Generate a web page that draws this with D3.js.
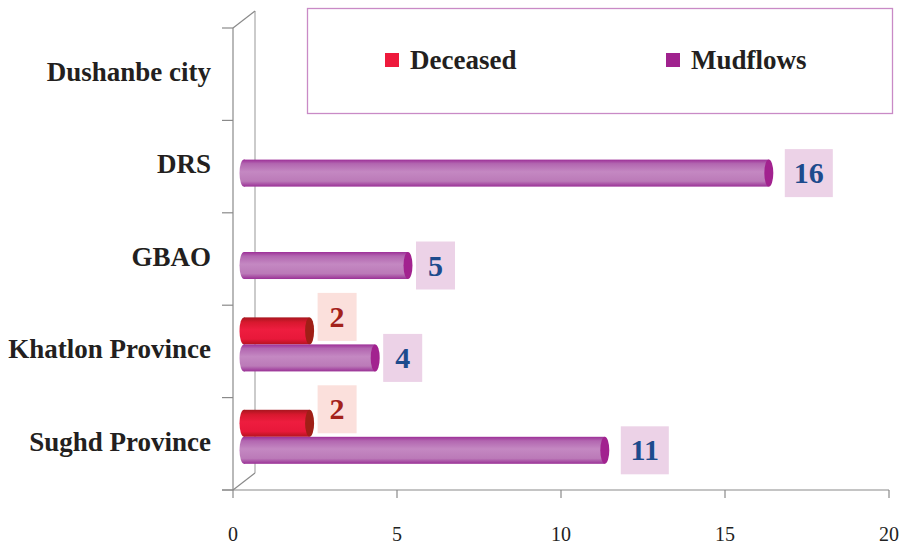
<!DOCTYPE html>
<html><head><meta charset="utf-8">
<script src="https://cdn.jsdelivr.net/npm/d3@7"></script>
<style>body{margin:0;background:#fff}svg{display:block}</style>
</head><body>
<svg id="c" width="902" height="546"></svg>
<script>
const categories = ["Dushanbe city","DRS","GBAO","Khatlon Province","Sughd Province"];
const seriesNames = ["Deceased","Mudflows"];
const deceased = [0,0,0,2,2];
const mudflows = [0,16,5,4,11];
const xTicks = [0,5,10,15,20];

const svg = d3.select("#c");
const x = d3.scaleLinear().domain([0,20]).range([233,889]);
const y = d3.scaleBand().domain(categories).range([28,490]);
const inner = d3.scaleBand().domain(seriesNames).range([0,y.bandwidth()]).paddingOuter(0.71);
const depth = {dx:22, dy:-17};
const barDx = 11, barDy = -7;
const font = "'Liberation Serif','Times New Roman',serif";
const axisCol = "#8a8a8a";

const defs = svg.append("defs");
function grad(id, stops){
  const g = defs.append("linearGradient").attr("id",id).attr("x1",0).attr("x2",0).attr("y1",0).attr("y2",1);
  stops.forEach(s=>g.append("stop").attr("offset",s[0]).attr("stop-color",s[1]));
}
grad("gDec",[[0,"#a8161f"],[0.18,"#d8182e"],[0.45,"#ee1d3f"],[0.8,"#e8183a"],[1,"#b5141f"]]);
grad("gMud",[[0,"#9d2f98"],[0.15,"#b266b0"],[0.45,"#c488c2"],[0.8,"#bb7ab8"],[1,"#9a3196"]]);
const style = {
  Deceased:{fill:"url(#gDec)",cap:"#a01f16",leg:"#ee1a3c",box:"#fbe0dc",txt:"#a3221b",shift:-14},
  Mudflows:{fill:"url(#gMud)",cap:"#a2228f",leg:"#a0228e",box:"#ecd2e7",txt:"#1d4b8d",shift:0}
};

// walls / axes
const g = svg.append("g").attr("stroke",axisCol).attr("stroke-width",1.2).attr("fill","none");
g.append("line").attr("x1",x(0)).attr("x2",x(0)).attr("y1",y.range()[0]).attr("y2",y.range()[1]);
g.append("line").attr("x1",x(0)+depth.dx).attr("x2",x(0)+depth.dx).attr("y1",y.range()[0]+depth.dy).attr("y2",y.range()[1]+depth.dy).attr("stroke","#a8a8a8");
g.append("line").attr("x1",x(0)).attr("x2",x(0)+depth.dx).attr("y1",y.range()[0]).attr("y2",y.range()[0]+depth.dy);
g.append("line").attr("x1",x(0)).attr("x2",x(0)+depth.dx).attr("y1",y.range()[1]).attr("y2",y.range()[1]+depth.dy);
const edges = categories.map(c=>y(c)).concat([y.range()[1]]);
g.selectAll(".lt").data(edges).join("line").attr("x1",x(0)-11).attr("x2",x(0)).attr("y1",d=>d).attr("y2",d=>d);
g.append("line").attr("x1",x(0)-11).attr("x2",x(20)).attr("y1",y.range()[1]).attr("y2",y.range()[1]);
g.selectAll(".bt").data(xTicks).join("line").attr("x1",d=>x(d)).attr("x2",d=>x(d)).attr("y1",y.range()[1]).attr("y2",y.range()[1]+8);

svg.append("g").selectAll("text").data(xTicks).join("text")
  .attr("x",d=>x(d)).attr("y",541).attr("text-anchor","middle")
  .attr("font-family",font).attr("font-size",20).attr("fill","#222").text(d=>d);

svg.append("g").selectAll("text").data(categories).join("text")
  .attr("x",211).attr("y",d=>y(d)+53).attr("text-anchor","end")
  .attr("font-family",font).attr("font-weight","bold").attr("font-size",27).attr("fill","#231f20").text(d=>d);

// bars
const values = {Deceased:deceased, Mudflows:mudflows};
const bh = inner.bandwidth();
const rows = [];
seriesNames.forEach(s=>categories.forEach((c,i)=>{ if(values[s][i]>0) rows.push({s,c,v:values[s][i]}); }));
const bars = svg.append("g").selectAll("g").data(rows).join("g");
bars.each(function(d){
  const gg = d3.select(this);
  const top = y(d.c)+inner(d.s)+barDy, x0 = x(0)+barDx, x1 = x(d.v)+barDx, ry = bh/2, rx = 4.5;
  gg.append("ellipse").attr("cx",x0).attr("cy",top+ry).attr("rx",rx).attr("ry",ry).attr("fill",style[d.s].fill);
  gg.append("rect").attr("x",x0).attr("y",top).attr("width",x1-x0).attr("height",bh).attr("fill",style[d.s].fill);
  gg.append("ellipse").attr("cx",x1).attr("cy",top+ry).attr("rx",rx).attr("ry",ry).attr("fill",style[d.s].cap);
  const str = String(d.v);
  const bw = str.length>1 ? 48 : 39;
  const bx = x1 + 8 + (str.length-1)*8;
  const cy = top+ry+style[d.s].shift;
  gg.append("rect").attr("x",bx).attr("y",cy-24).attr("width",bw).attr("height",48).attr("fill",style[d.s].box);
  gg.append("text").attr("x",bx+bw/2).attr("y",cy+10).attr("text-anchor","middle")
    .attr("font-family",font).attr("font-weight","bold").attr("font-size",30).attr("fill",style[d.s].txt).text(str);
});

// legend
svg.append("rect").attr("x",307.5).attr("y",8.5).attr("width",585).attr("height",105)
  .attr("fill","#fff").attr("stroke","#c98ac6").attr("stroke-width",1.3);
const legX = [385,666];
const lg = svg.append("g").selectAll("g").data(seriesNames).join("g");
lg.append("rect").attr("x",(d,i)=>legX[i]).attr("y",53).attr("width",14).attr("height",14).attr("fill",d=>style[d].leg);
lg.append("text").attr("x",(d,i)=>legX[i]+25).attr("y",69).attr("font-family",font).attr("font-weight","bold")
  .attr("font-size",27).attr("fill","#231f20").text(d=>d);
</script>
</body></html>
